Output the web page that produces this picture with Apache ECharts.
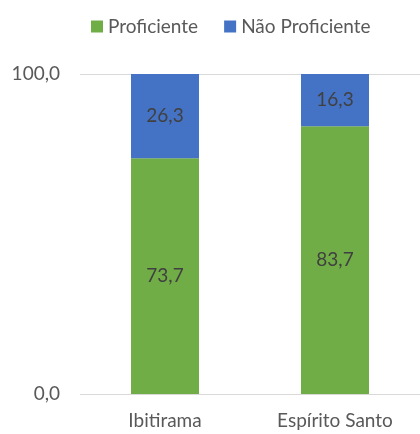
<!DOCTYPE html>
<html>
<head>
<meta charset="utf-8">
<script src="https://cdn.jsdelivr.net/npm/echarts@6/dist/echarts.min.js"></script>
<style>
  html, body { margin: 0; padding: 0; background: #fff; }
  #chart { width: 420px; height: 434px; }
</style>
</head>
<body>
<div id="chart"></div>
<script>
const categories = ['Ibitirama', 'Espírito Santo'];
const proficiente = [73.7, 83.7];
const naoProficiente = [26.3, 16.3];

const fmt = (v) => v.toFixed(1).replace('.', ',');
const font = 'Lato';
const fontSize = 19;

const chart = echarts.init(document.getElementById('chart'), null, { renderer: 'canvas' });

const labelStyle = {
    show: true,
    position: 'inside',
    color: '#404040',
    fontFamily: font,
    fontSize: fontSize,
    formatter: (p) => fmt(p.value),
};

chart.setOption({
    animation: false,
    legend: {
        top: 12,
        left: 86,
        itemWidth: 12,
        itemHeight: 12,
        itemGap: 26,
        icon: 'rect',
        textStyle: { fontFamily: font, fontSize: fontSize, color: '#595959' },
    },
    grid: { left: 80, right: -8, top: 74, bottom: 40 },
    xAxis: {
        type: 'category',
        data: categories,
        axisLine: { show: false },
        axisTick: { show: false },
        axisLabel: { fontFamily: font, fontSize: fontSize, color: '#595959', margin: 17 },
    },
    yAxis: {
        type: 'value',
        min: 0,
        max: 100,
        interval: 100,
        axisLine: { show: false },
        axisTick: { show: false },
        axisLabel: { fontFamily: font, fontSize: fontSize, color: '#595959', margin: 20, formatter: (v) => fmt(v) },
        splitLine: { lineStyle: { color: '#d9d9d9', width: 1 } },
    },
    series: [
        {
            name: 'Proficiente',
            type: 'bar',
            stack: 'total',
            barWidth: '40%',
            data: proficiente,
            itemStyle: { color: '#70ad47' },
            label: labelStyle,
        },
        {
            name: 'Não Proficiente',
            type: 'bar',
            stack: 'total',
            barWidth: '40%',
            data: naoProficiente,
            itemStyle: { color: '#4472c4' },
            label: labelStyle,
        },
    ],
});
</script>
</body>
</html>
